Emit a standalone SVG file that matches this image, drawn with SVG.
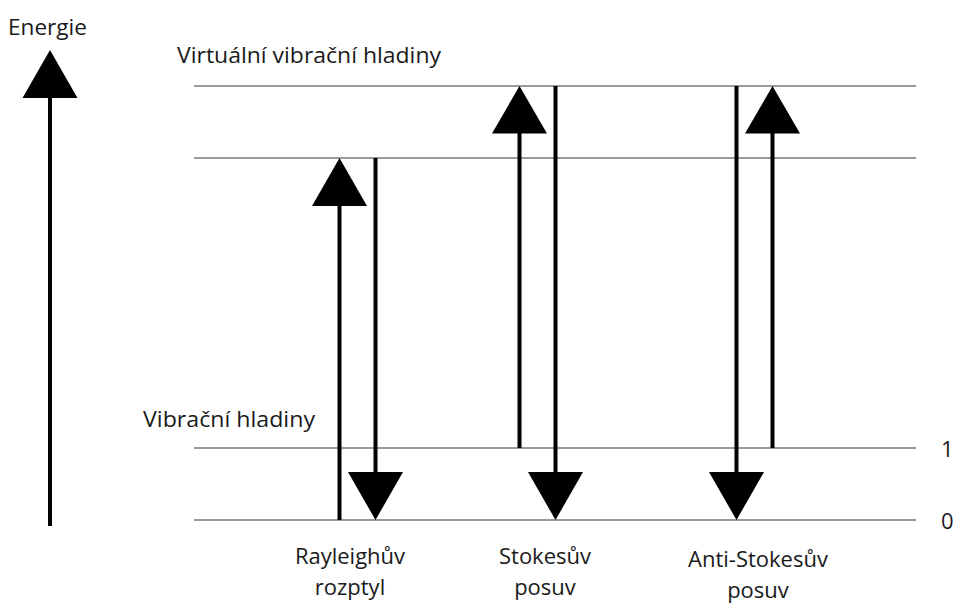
<svg xmlns="http://www.w3.org/2000/svg" width="955" height="605" viewBox="0 0 955 605">
<style>
text{font-family:"Open Sans","Noto Sans","Liberation Sans",sans-serif;font-size:22px;fill:#1a1a1a}
.lvl{stroke:#999;stroke-width:2}
.shaft{stroke:#000;stroke-width:4;fill:none}
.head{fill:#000}
</style>
<rect width="955" height="605" fill="#fff"/>
<g id="levels">
<line class="lvl" x1="194" y1="86" x2="916" y2="86"/>
<line class="lvl" x1="194" y1="158" x2="916" y2="158"/>
<line class="lvl" x1="194" y1="448" x2="916" y2="448"/>
<line class="lvl" x1="194" y1="520" x2="916" y2="520"/>
</g>
<g id="labels">
<text x="8" y="35" textLength="79" lengthAdjust="spacingAndGlyphs">Energie</text>
<text x="177" y="63" textLength="264" lengthAdjust="spacingAndGlyphs">Virtuální vibrační hladiny</text>
<text x="143" y="427" textLength="172" lengthAdjust="spacingAndGlyphs">Vibrační hladiny</text>
<text x="941" y="457">1</text>
<text x="941" y="529">0</text>
<text x="350" y="564" text-anchor="middle">Rayleighův</text>
<text x="350" y="595" text-anchor="middle">rozptyl</text>
<text x="545" y="564" text-anchor="middle">Stokesův</text>
<text x="545" y="595" text-anchor="middle">posuv</text>
<text x="758" y="567" text-anchor="middle">Anti-Stokesův</text>
<text x="758" y="598" text-anchor="middle">posuv</text>
</g>
<g id="connectors">
<g id="energy-axis">
<line class="shaft" x1="50" y1="96" x2="50" y2="526"/>
<polygon class="head" points="50,50 77.5,98 22.5,98"/>
</g>
<g id="rayleigh-up">
<line class="shaft" x1="339.5" y1="204" x2="339.5" y2="520"/>
<polygon class="head" points="339.5,158 367,206 312,206"/>
</g>
<g id="rayleigh-down">
<line class="shaft" x1="375.5" y1="158" x2="375.5" y2="474"/>
<polygon class="head" points="375.5,520 403,472 348,472"/>
</g>
<g id="stokes-up">
<line class="shaft" x1="519.5" y1="131" x2="519.5" y2="448"/>
<polygon class="head" points="519.5,86 547,133.5 492,133.5"/>
</g>
<g id="stokes-down">
<line class="shaft" x1="555.5" y1="86" x2="555.5" y2="474"/>
<polygon class="head" points="555.5,520 583,472 528,472"/>
</g>
<g id="antistokes-down">
<line class="shaft" x1="736.5" y1="86" x2="736.5" y2="474"/>
<polygon class="head" points="736.5,520 764,472 709,472"/>
</g>
<g id="antistokes-up">
<line class="shaft" x1="772.5" y1="131" x2="772.5" y2="448"/>
<polygon class="head" points="772.5,86 800,133.5 745,133.5"/>
</g>
</g>
</svg>
